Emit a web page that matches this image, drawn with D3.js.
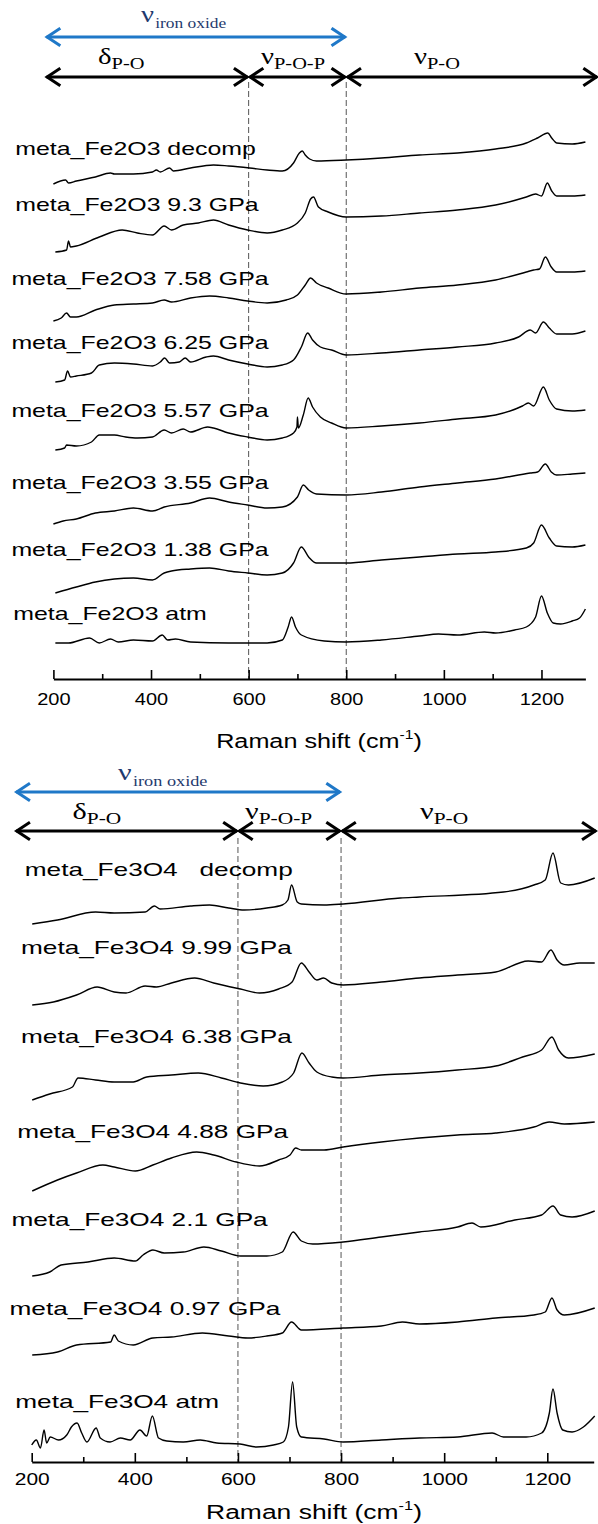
<!DOCTYPE html>
<html><head><meta charset="utf-8">
<script src="https://cdn.jsdelivr.net/npm/d3@7"></script>
<style>body{margin:0;background:#fff} svg{display:block}</style>
</head><body><svg id="c" width="598" height="1524"></svg>
<script>
// ---------------- DATA ----------------
const xTicksMajor = [200, 400, 600, 800, 1000, 1200];
const xTicksMinor = [300, 500, 700, 900, 1100];
const xTitle = "Raman shift (cm";
const dividers = [600, 800];

const topLabels = ["meta_Fe2O3 decomp","meta_Fe2O3 9.3 GPa","meta_Fe2O3 7.58 GPa","meta_Fe2O3 6.25 GPa",
  "meta_Fe2O3 5.57 GPa","meta_Fe2O3 3.55 GPa","meta_Fe2O3 1.38 GPa","meta_Fe2O3 atm"];
const topOffsets = [495, 427, 358, 297, 229, 155, 86, 36];

const t_decomp = [[200,0],[225,4],[231,1],[247,3],[286,7],[317,11],[325,10],[364,10],[403,12],[411,14],[419,12],[438,16],[446,13],[481,16],[528,19],[559,18],[602,16],[638,14],[669,13],[692,21],[704,31],[710,33],[716,29],[725,25],[739,23],[800,24],[872,26],[950,29],[1028,31],[1106,35],[1169,41],[1192,46],[1213,51],[1221,46],[1231,41],[1263,40],[1290,42]];
const t_9_3 = [[204,0],[227,2],[231,11],[235,5],[247,6],[294,15],[341,22],[372,19],[403,17],[427,26],[442,22],[466,27],[497,29],[528,32],[559,27],[598,22],[638,19],[669,22],[700,29],[716,39],[727,53],[733,55],[743,45],[763,40],[800,35],[872,36],[950,39],[1028,42],[1106,47],[1169,55],[1188,58],[1200,56],[1212,69],[1221,61],[1231,56],[1263,56],[1290,57]];
const t_7_58 = [[200,0],[216,3],[227,8],[235,4],[247,4],[286,11],[325,16],[364,17],[403,18],[427,21],[442,19],[481,23],[520,25],[559,23],[598,20],[638,18],[677,21],[700,26],[716,36],[727,43],[739,38],[763,33],[800,27],[872,29],[950,33],[1028,36],[1106,41],[1169,49],[1184,51],[1196,52],[1208,64],[1220,54],[1231,49],[1263,49],[1290,50]];
const t_6_25 = [[204,0],[223,2],[229,11],[235,5],[247,6],[278,9],[294,17],[325,19],[364,18],[403,16],[419,20],[428,24],[438,19],[458,20],[470,24],[481,20],[513,25],[528,26],[559,22],[598,18],[638,15],[669,17],[692,22],[708,35],[721,49],[731,42],[747,35],[770,32],[800,27],[872,29],[950,32],[1028,35],[1106,39],[1153,45],[1177,52],[1188,49],[1204,60],[1216,54],[1231,48],[1263,48],[1290,51]];
const t_5_57 = [[204,0],[223,2],[227,5],[247,4],[278,8],[294,15],[325,15],[348,13],[372,12],[403,13],[427,20],[442,17],[466,21],[481,18],[516,23],[528,22],[559,17],[598,13],[638,10],[669,12],[692,17],[699,23],[700,33],[702,22],[712,35],[722,52],[731,43],[747,33],[770,27],[800,22],[872,24],[950,27],[1028,31],[1106,35],[1161,44],[1173,47],[1184,44],[1204,63],[1216,50],[1231,41],[1263,39],[1290,40]];
const t_3_55 = [[200,0],[220,3],[247,5],[286,11],[325,13],[364,16],[403,13],[427,17],[481,21],[520,26],[559,22],[598,19],[638,16],[669,17],[700,27],[712,39],[723,34],[739,30],[800,29],[872,32],[950,37],[1028,41],[1106,45],[1177,51],[1192,52],[1208,60],[1220,52],[1231,49],[1263,50],[1290,51]];
const t_1_38 = [[204,0],[247,6],[286,11],[325,14],[364,15],[403,13],[427,20],[442,22],[481,24],[520,25],[559,22],[598,20],[638,18],[669,20],[692,30],[708,46],[723,36],[739,30],[800,30],[872,33],[950,36],[1028,39],[1106,41],[1169,45],[1184,50],[1200,68],[1216,55],[1231,47],[1263,46],[1290,48]];
const t_atm = [[204,0],[231,0],[274,5],[294,0],[317,4],[333,1],[364,3],[403,2],[423,8],[434,3],[450,4],[481,1],[559,0],[638,0],[669,3],[681,16],[688,26],[696,16],[708,8],[755,2],[800,1],[872,3],[950,7],[989,9],[1028,8],[1083,11],[1106,10],[1145,13],[1169,16],[1188,26],[1200,47],[1212,30],[1224,20],[1239,19],[1263,22],[1278,25],[1290,34]];
const topSpectra = [t_decomp, t_9_3, t_7_58, t_6_25, t_5_57, t_3_55, t_1_38, t_atm];

const botLabels = ["meta_Fe3O4   decomp","meta_Fe3O4 9.99 GPa","meta_Fe3O4 6.38 GPa","meta_Fe3O4 4.88 GPa",
  "meta_Fe3O4 2.1 GPa","meta_Fe3O4 0.97 GPa","meta_Fe3O4 atm"];
const botOffsets = [538, 457, 362, 271, 186, 107, 17];

const b_decomp = [[201,0],[250,4],[324,12],[360,11],[420,12],[438,18],[449,15],[508,18],[545,19],[582,16],[612,14],[656,16],[686,19],[697,24],[704,39],[715,22],[723,20],[767,19],[804,20],[915,26],[952,27],[1115,32],[1174,39],[1196,44],[1211,71],[1226,41],[1241,39],[1292,46]];
const b_9_99 = [[201,0],[242,3],[287,10],[327,18],[360,13],[383,12],[420,19],[442,18],[471,22],[516,27],[553,22],[605,16],[642,12],[679,16],[705,23],[723,42],[738,33],[753,25],[766,27],[782,22],[804,20],[878,23],[952,27],[1026,30],[1100,33],[1163,44],[1189,43],[1207,55],[1219,45],[1233,40],[1263,42],[1292,42]];
const b_6_38 = [[201,0],[235,6],[279,13],[290,22],[324,20],[360,18],[397,18],[423,23],[471,25],[523,27],[568,22],[605,17],[649,14],[686,18],[708,27],[724,47],[738,37],[753,28],[782,23],[804,22],[878,25],[952,27],[1026,30],[1100,34],[1152,43],[1189,50],[1209,63],[1222,50],[1241,42],[1292,46]];
const b_4_88 = [[201,0],[250,11],[287,18],[338,26],[360,24],[401,20],[435,26],[471,33],[520,39],[553,36],[597,29],[642,25],[679,31],[701,36],[712,43],[723,41],[767,41],[804,44],[878,49],[952,53],[1026,56],[1100,58],[1174,64],[1204,69],[1233,67],[1292,69]];
const b_2_1 = [[201,0],[235,4],[257,11],[309,14],[360,18],[401,15],[416,21],[435,26],[457,23],[494,24],[534,29],[568,25],[605,20],[656,20],[686,24],[707,44],[723,35],[745,32],[804,34],[878,39],[952,44],[1026,49],[1054,53],[1071,49],[1137,56],[1189,61],[1211,70],[1226,61],[1248,59],[1292,65]];
const b_0_97 = [[201,0],[250,3],[287,10],[353,13],[360,20],[368,14],[397,10],[435,17],[471,18],[531,22],[582,19],[619,17],[656,19],[686,22],[704,33],[723,25],[804,27],[878,29],[919,33],[952,31],[1026,33],[1100,37],[1174,40],[1196,43],[1209,57],[1219,45],[1233,40],[1292,47]];
const b_atm = [[200,0],[209,5],[217,-3],[224,15],[229,2],[236,8],[252,5],[268,10],[277,18],[288,22],[297,12],[307,3],[325,17],[333,7],[352,3],[372,7],[391,5],[410,15],[423,9],[434,29],[446,7],[462,4],[494,3],[527,5],[559,2],[604,1],[636,-2],[669,0],[688,3],[698,18],[706,63],[714,18],[723,8],[767,6],[804,3],[878,5],[952,7],[1026,8],[1093,12],[1115,8],[1159,8],[1189,12],[1204,32],[1211,56],[1219,32],[1230,15],[1248,13],[1270,18],[1292,29]];
const botSpectra = [b_decomp, b_9_99, b_6_38, b_4_88, b_2_1, b_0_97, b_atm];

// band annotations (cm-1)
const ironBand = [800];
const bandSymbols = ["δ", "ν", "ν"];
const bandSubs = ["P-O", "P-O-P", "P-O"];

// ---------------- DRAWING ----------------
const svg = d3.select("#c");
const SANS = "'Liberation Sans', Arial, Helvetica, sans-serif";
const SERIF = "'Liberation Serif', 'Times New Roman', serif";
const BLUE = "#1f78c8", NAVY = "#1f3a6e";

function chevron(g, x, y, dir, color, w) {
  g.append("path")
    .attr("d", `M${x - dir*12},${y-8} L${x},${y} L${x - dir*12},${y+8}`)
    .attr("fill", "none").attr("stroke", color).attr("stroke-width", w)
    .attr("stroke-linejoin", "miter").attr("stroke-linecap", "square");
}
function dblArrow(g, x1, x2, y, color, w) {
  g.append("line").attr("x1", x1+1).attr("x2", x2-1).attr("y1", y).attr("y2", y)
    .attr("stroke", color).attr("stroke-width", w);
  chevron(g, x1+1.5, y, -1, color, w);
  chevron(g, x2-1.5, y, 1, color, w);
}
function greek(g, x, y, sym, sub, o) {
  const t = g.append("text").attr("transform", `translate(${x},${y}) scale(${o.sx},1)`)
    .attr("font-family", SERIF).attr("fill", o.color);
  t.append("tspan").attr("font-size", o.main).text(sym);
  t.append("tspan").attr("font-size", o.sub).attr("dy", o.dy).attr("dx", o.dx || 0).text(sub);
}

function panel(cfg) {
  const g = svg.append("g");
  const x = d3.scaleLinear().domain([200, 1290]).range([cfg.x0, cfg.x1]);
  const y = d3.scaleLinear().domain([0, 600]).range([cfg.axisY, cfg.axisY - 600]);

  dividers.forEach(v => {
    g.append("line").attr("x1", x(v)).attr("x2", x(v)).attr("y1", cfg.dashTop).attr("y2", cfg.axisY)
      .attr("stroke", "#555").attr("stroke-width", 1).attr("stroke-dasharray", "6,3");
  });

  dblArrow(g, x(cfg.bandStart), x(ironBand[0]), cfg.blueY, BLUE, 3);
  greek(g, cfg.ironLbl[0], cfg.ironLbl[1], "ν", "iron oxide",
    {sx: cfg.gsx, color: NAVY, main: 24, sub: 14.5, dy: 6, dx: 1});

  const edges = [cfg.bandStart, dividers[0], dividers[1], cfg.bandEnd];
  for (let i = 0; i < 3; i++) {
    dblArrow(g, x(edges[i]), x(edges[i+1]), cfg.blackY, "#000", 3);
    greek(g, cfg.bandLbl[i], cfg.bandLblY, bandSymbols[i], bandSubs[i],
      {sx: cfg.gsx, color: "#000", main: 24, sub: 17, dy: 5, dx: 0});
  }

  const line = d3.line().x(d => x(d[0])).y(d => y(d[1])).curve(d3.curveMonotoneX);
  cfg.spectra.forEach((s, i) => {
    const off = cfg.offsets[i];
    g.append("path").datum(s.map(p => [p[0], p[1] + off]))
      .attr("d", line).attr("fill", "none").attr("stroke", "#000").attr("stroke-width", 1.4)
      .attr("stroke-linejoin", "round");
  });
  cfg.labels.forEach((lbl, i) => {
    g.append("text").attr("transform", `translate(${cfg.lblX[i]},${cfg.lblY[i]}) scale(${cfg.lsx},1)`)
      .attr("font-family", SANS).attr("font-size", 19).attr("fill", "#000")
      .style("white-space", "pre").text(lbl);
  });

  const ax = g.append("g").attr("transform", `translate(0,${cfg.axisY})`);
  ax.call(d3.axisBottom(x).tickValues(xTicksMajor).tickSizeInner(-9).tickSizeOuter(0).tickFormat(d3.format("d")));
  ax.select(".domain").attr("stroke-width", 1.8);
  ax.selectAll(".tick line").attr("stroke-width", 1.6);
  ax.selectAll(".tick text").attr("y", cfg.tickLblDy).attr("dy", null)
    .attr("font-size", 16).attr("font-family", SANS).attr("fill", "#000")
    .attr("transform", `scale(${cfg.tsx},1)`);
  const axm = g.append("g").attr("transform", `translate(0,${cfg.axisY})`);
  axm.call(d3.axisBottom(x).tickValues(xTicksMinor).tickSizeInner(-5).tickSizeOuter(0).tickFormat(""));
  axm.select(".domain").remove();
  axm.selectAll(".tick line").attr("stroke-width", 1.6);

  const t = g.append("text").attr("transform", `translate(${cfg.titleX},${cfg.titleY}) scale(${cfg.ttsx},1)`)
    .attr("text-anchor", "middle").attr("font-family", SANS).attr("font-size", 21).attr("fill", "#000");
  t.append("tspan").text(xTitle);
  t.append("tspan").attr("font-size", 13).attr("dy", -9).text("-1");
  t.append("tspan").attr("dy", 9).text(")");
}

panel({
  x0: 53.4, x1: 585.4, axisY: 679, dashTop: 82,
  blueY: 37, blackY: 77, bandStart: 184, bandEnd: 1316,
  ironLbl: [141, 22], bandLbl: [98, 261, 414], bandLblY: 64, gsx: 1.2,
  spectra: topSpectra, offsets: topOffsets, labels: topLabels,
  lblX: [15.3, 15.3, 11.4, 11.4, 11.4, 11.4, 11.4, 13.3],
  lblY: [155, 211, 285, 349, 417, 489, 556, 620], lsx: 1.31,
  tickLblDy: 26, tsx: 1.25, titleX: 319, titleY: 748, ttsx: 1.2
});
panel({
  x0: 31.7, x1: 593.7, axisY: 1462, dashTop: 838,
  blueY: 792, blackY: 831, bandStart: 168, bandEnd: 1296,
  ironLbl: [118, 780], bandLbl: [72.5, 245, 420], bandLblY: 819, gsx: 1.26,
  spectra: botSpectra, offsets: botOffsets, labels: botLabels,
  lblX: [24.8, 21, 21, 17.2, 11.4, 9.5, 15.3],
  lblY: [876, 954, 1043, 1138, 1226, 1315, 1408], lsx: 1.38,
  tickLblDy: 23, tsx: 1.31, titleX: 314, titleY: 1519, ttsx: 1.26
});
</script></body></html>
